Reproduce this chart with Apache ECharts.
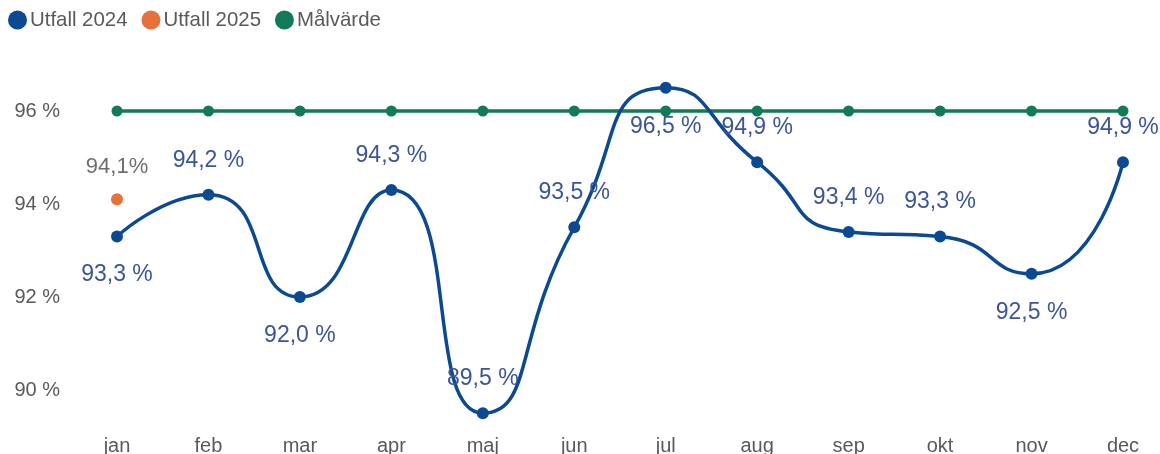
<!DOCTYPE html>
<html>
<head>
<meta charset="utf-8">
<script src="https://cdn.jsdelivr.net/npm/echarts@6/dist/echarts.min.js"></script>
<style>
  html, body { margin: 0; padding: 0; background: #fff; }
  #chart { width: 1160px; height: 454px; }
</style>
</head>
<body>
<div id="chart"></div>
<script>
const months = ['jan', 'feb', 'mar', 'apr', 'maj', 'jun', 'jul', 'aug', 'sep', 'okt', 'nov', 'dec'];
const utfall2024 = [93.3, 94.2, 92.0, 94.3, 89.5, 93.5, 96.5, 94.9, 93.4, 93.3, 92.5, 94.9];
const utfall2025 = [94.1, null, null, null, null, null, null, null, null, null, null, null];
const malvarde = [96, 96, 96, 96, 96, 96, 96, 96, 96, 96, 96, 96];

// where each 2024 label sits relative to its point
const labelSide = ['bottom', 'top', 'bottom', 'top', 'top', 'top', 'bottom', 'top', 'top', 'top', 'bottom', 'top'];

const fmt = v => v.toFixed(1).replace('.', ',');
const font = 'Liberation Sans, Arial, sans-serif';

const chart = echarts.init(document.getElementById('chart'));
chart.setOption({
  animation: false,
  textStyle: { fontFamily: font },
  legend: {
    left: 3, top: 5,
    icon: 'circle',
    itemWidth: 19, itemHeight: 19, itemGap: 14,
    textStyle: { fontSize: 20.4, color: '#595959', padding: [0, 0, 0, -2] },
    data: ['Utfall 2024', 'Utfall 2025', 'Målvärde']
  },
  grid: { left: 117, right: 37, top: 64.5, bottom: 17.5, outerBoundsMode: 'none', containLabel: false },
  xAxis: {
    type: 'category',
    data: months,
    boundaryGap: false,
    axisLine: { show: false },
    axisTick: { show: false },
    axisLabel: { color: '#595959', fontSize: 20, margin: 0 }
  },
  yAxis: {
    type: 'value',
    min: 89, max: 97, interval: 1,
    splitLine: { show: false },
    axisLabel: {
      color: '#595959', fontSize: 20, margin: 57,
      formatter: v => (v % 2 === 0 ? v + ' %' : '')
    }
  },
  series: [
    {
      name: 'Målvärde',
      type: 'line',
      data: malvarde,
      symbol: 'circle', symbolSize: 11,
      itemStyle: { color: '#117A57' },
      lineStyle: { color: '#117A57', width: 3.5 },
      z: 2
    },
    {
      name: 'Utfall 2024',
      type: 'line',
      data: utfall2024.map((v, i) => ({ value: v, label: { position: labelSide[i] } })),
      smooth: 0.6,
      symbol: 'circle', symbolSize: 12,
      itemStyle: { color: '#0B4A92' },
      lineStyle: { color: '#0B4A92', width: 3.5 },
      label: {
        show: true, distance: 19, fontSize: 23, color: '#3B5597', offset: [0, 2],
        formatter: p => fmt(p.value) + ' %'
      },
      z: 3
    },
    {
      name: 'Utfall 2025',
      type: 'line',
      data: utfall2025,
      symbol: 'circle', symbolSize: 12,
      itemStyle: { color: '#E8703A' },
      lineStyle: { color: '#E8703A', width: 3 },
      label: {
        show: true, position: 'top', distance: 17, fontSize: 22, color: '#6E6E6E', offset: [0, 2],
        formatter: p => fmt(p.value) + '%'
      },
      z: 4
    }
  ]
});
</script>
</body>
</html>
